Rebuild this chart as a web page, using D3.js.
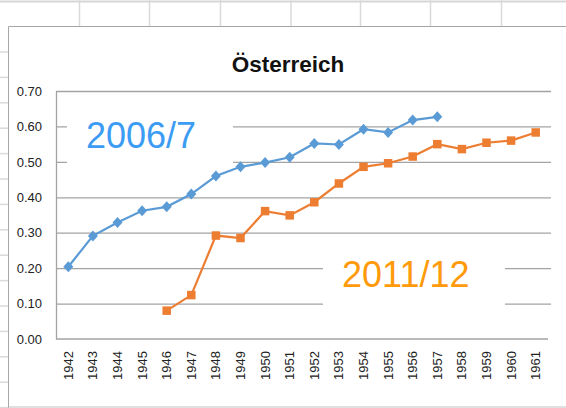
<!DOCTYPE html>
<html><head><meta charset="utf-8">
<script src="https://cdn.jsdelivr.net/npm/d3@7"></script>
<style>html,body{margin:0;padding:0;background:#fff;}svg{display:block;}</style>
</head><body>
<script>
const years = ["1942","1943","1944","1945","1946","1947","1948","1949","1950","1951","1952","1953","1954","1955","1956","1957","1958","1959","1960","1961"];
const series2006 = [0.204,0.291,0.329,0.362,0.373,0.409,0.460,0.486,0.498,0.513,0.552,0.549,0.592,0.583,0.618,0.627,null,null,null,null];
const series2011 = [null,null,null,null,0.080,0.124,0.292,0.285,0.361,0.349,0.386,0.439,0.486,0.496,0.515,0.550,0.536,0.554,0.560,0.583];
const yTicks = [0,0.1,0.2,0.3,0.4,0.5,0.6,0.7];
const title = "Österreich";
const label2006 = "2006/7";
const label2011 = "2011/12";

const W = 566, H = 408;
const svg = d3.select("body").append("svg").attr("width", W).attr("height", H);

// spreadsheet background
const sheet = svg.append("g");
sheet.append("line").attr("x1",0).attr("x2",W).attr("y1",1.5).attr("y2",1.5).attr("stroke","#d6d6d6").attr("stroke-width",2);
[79.5,149.5,220.5,291,360.5,430.5,501.5].forEach(x=>{
  sheet.append("line").attr("x1",x).attr("x2",x).attr("y1",0).attr("y2",26).attr("stroke","#dadada").attr("stroke-width",1.5);
});
for(let i=0;i<15;i++){
  const y = 52 + i*25.4;
  sheet.append("line").attr("x1",0).attr("x2",8).attr("y1",y).attr("y2",y).attr("stroke","#dadada").attr("stroke-width",1.5);
}
// chart area border
sheet.append("path").attr("d",`M8.5,${H}V26.5H${W}`).attr("fill","none").attr("stroke","#a6a6a6").attr("stroke-width",1);
sheet.append("line").attr("x1",8).attr("x2",W).attr("y1",407).attr("y2",407).attr("stroke","#bfbfbf").attr("stroke-width",1);

const plot = {left:56, right:548, top:91, bottom:339};
const x = d3.scaleBand().domain(years).range([plot.left, plot.right]).paddingInner(0).paddingOuter(0);
const cx = d => x(d) + x.bandwidth()/2;
const y = d3.scaleLinear().domain([0,0.7]).range([plot.bottom, plot.top]);

// gridlines
const grid = svg.append("g")
  .attr("transform",`translate(${plot.left},0)`)
  .call(d3.axisLeft(y).tickValues(yTicks.slice(1)).tickSize(-(551-plot.left)).tickFormat(""));
grid.select(".domain").remove();
grid.selectAll(".tick line").attr("stroke","#a3a3a3").attr("stroke-width",1.3);

// label boxes (hide gridlines like Excel text boxes)
svg.append("rect").attr("x",67).attr("y",108).attr("width",166).attr("height",62).attr("fill","#fff");
svg.append("rect").attr("x",323).attr("y",248).attr("width",182).attr("height",62).attr("fill","#fff");

// axes
const yAxis = svg.append("g").attr("transform",`translate(${plot.left},0)`)
  .call(d3.axisLeft(y).tickValues(yTicks).tickSize(0).tickPadding(14).tickFormat(d3.format(".2f")));
yAxis.select(".domain").attr("stroke","#a3a3a3").attr("stroke-width",1.3);
yAxis.selectAll("text").attr("font-family","Liberation Sans, Arial, sans-serif").attr("font-size",13).attr("fill","#222");

const xAxis = svg.append("g").attr("transform",`translate(0,${plot.bottom})`)
  .call(d3.axisBottom(x).tickSize(0).tickPadding(0));
xAxis.select(".domain").attr("d",`M${plot.left},0H${plot.right}`).attr("stroke","#a3a3a3").attr("stroke-width",1.3);
xAxis.selectAll("text")
  .attr("font-family","Liberation Sans, Arial, sans-serif").attr("font-size",13).attr("fill","#222")
  .attr("transform","rotate(-90)")
  .attr("text-anchor","end")
  .attr("x",-12).attr("y",0).attr("dy","0.35em");

// title
svg.append("text").attr("x",288).attr("y",72).attr("text-anchor","middle")
  .attr("font-family","Liberation Sans, Arial, sans-serif").attr("font-weight","bold").attr("font-size",22.5).attr("fill","#111")
  .text(title);

// labels
svg.append("text").attr("x",86).attr("y",148).attr("font-family","Liberation Sans, Arial, sans-serif").attr("font-size",36).attr("fill","#3c9cf4").text(label2006);
svg.append("text").attr("x",342).attr("y",287).attr("font-family","Liberation Sans, Arial, sans-serif").attr("font-size",36).attr("fill","#ff9a0a").text(label2011);

// series
const line = d3.line().defined(d=>d.v!=null).x(d=>cx(d.k)).y(d=>y(d.v));
const d06 = years.map((k,i)=>({k, v:series2006[i]}));
const d11 = years.map((k,i)=>({k, v:series2011[i]}));

svg.append("path").datum(d06).attr("d",line).attr("fill","none").attr("stroke","#5b9bd5").attr("stroke-width",2.2);
svg.append("path").datum(d11).attr("d",line).attr("fill","none").attr("stroke","#ed7d31").attr("stroke-width",2.2);

svg.append("g").selectAll("path").data(d06.filter(d=>d.v!=null)).join("path")
  .attr("d", "M0,-5.5L5,0L0,5.5L-5,0Z")
  .attr("transform", d=>`translate(${cx(d.k)},${y(d.v)})`)
  .attr("fill","#5b9bd5");
svg.append("g").selectAll("rect").data(d11.filter(d=>d.v!=null)).join("rect")
  .attr("x", d=>cx(d.k)-4.25).attr("y", d=>y(d.v)-4.25).attr("width",8.5).attr("height",8.5)
  .attr("fill","#ed7d31");
</script>
</body></html>
